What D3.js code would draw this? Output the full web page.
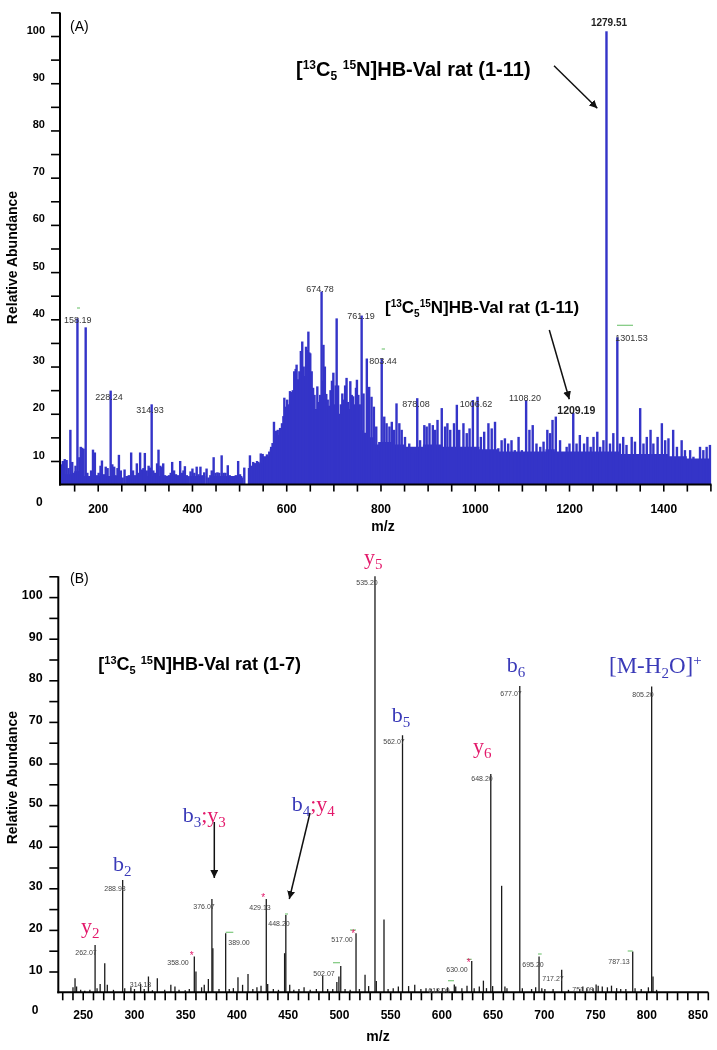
<!DOCTYPE html>
<html><head><meta charset="utf-8">
<script src="https://cdn.jsdelivr.net/npm/d3@7"></script>
<style>body{margin:0;background:#fff} svg{will-change:transform;display:block} text{white-space:pre}</style>
</head><body><svg id="c" width="717" height="1050"></svg>
<script>
// ---------- Panel A data (m/z, relative abundance) ----------
const mzA = [122,126,130,134,138,142,146,150,153,157,161,164,167,170,174.5,178,182,186,190,194,198,202,206,209,213,217,221,227.5,231,235,238,242,245,249,253,257,262,266,271,275,279,283,287,290,294,297,300,304,308,311,314.5,318,322,326,329,333,336,339,343,347,351,355,358,362,366,370,375,379,382,385,389,393,397,401,405,410,414,418,422,426,431,435,439,442,446,450,454,458,463,467,471,476,480,484,488,493,498,502,506,511,523,527,530,534,538,541,546,550,555,559,564,568,571,574,578,582,587,591,594,596,599,602,605,608,611,614,617,620,622,625,628,631,634,637,639,642,645,647,649,651,654,657,660,663,666,669,672,675,677,679,682,685,688,691,694,697,700,703,705,707,710,713,716,719,722,725,728,731,733,736,739,742,745,748,750,753,756,760,764,771,776,781,786,791,796,802.6,808,813,819,824,829,834,840,845,852,861,869,878,884,893,898,904,911,916,921,930,937,942,948,956,962,967,976,983,989,996,1006,1013,1020,1029,1036,1043,1050,1057,1064,1071,1078,1085,1093,1100,1109,1116,1123,1131,1139,1146,1154,1160,1165,1172,1181,1188,1195,1201,1209,1216,1223,1232,1239,1246,1252,1260,1266,1273,1279.5,1287,1294,1302.5,1308,1315,1322,1333,1340,1351,1358,1365,1373,1379,1388,1397,1404,1411,1421,1429,1439,1446,1457,1464,1478,1485,1492,1499];
const intA = [9.3,10.0,10.4,10.2,8.5,16.6,9.8,7.5,9.0,40.2,10.8,13.0,12.8,12.6,38.3,7.5,6.5,8.0,12.4,11.8,7.0,7.5,9.0,10.1,7.2,8.8,8.5,24.9,9.3,8.8,7.0,8.5,11.3,8.0,6.5,8.2,6.0,7.0,11.8,8.0,7.0,9.5,7.5,11.8,8.2,8.5,11.7,8.0,9.0,8.6,22.0,8.0,7.5,9.5,12.4,9.0,8.7,9.5,7.0,6.5,7.0,7.5,9.8,8.0,7.2,7.0,10.0,7.5,8.0,8.9,7.0,6.8,7.8,8.4,7.5,8.8,7.2,8.8,7.0,7.6,8.4,6.5,7.0,8.0,10.8,7.5,7.6,7.5,11.2,7.5,7.5,9.1,7.0,6.5,6.2,7.0,10.0,7.2,6.5,8.6,11.2,9.0,9.8,9.5,10.0,9.8,11.6,11.5,10.8,11.4,12.0,13.0,13.8,18.3,16.4,16.6,17.0,18.0,19.5,23.4,21.5,23.0,22.0,24.8,24.6,25.0,29.0,29.5,30.4,27.3,29.0,33.3,35.3,30.0,28.0,34.2,33.5,37.4,33.0,32.8,29.0,25.5,24.0,20.9,25.8,22.5,24.0,45.9,27.0,34.6,30.0,24.2,23.0,21.7,25.0,27.0,28.7,22.0,26.0,40.2,26.0,20.0,22.0,24.3,23.0,26.0,27.6,22.5,21.0,26.9,24.0,23.7,22.0,25.5,27.2,24.0,22.0,40.8,24.3,31.7,25.7,23.6,21.5,17.3,12.0,31.7,19.4,18.0,17.3,18.3,16.6,22.2,18.0,16.6,15.1,13.7,11.6,23.3,14.4,17.6,17.3,18.0,17.6,16.6,18.7,21.2,17.3,18.0,16.6,18.0,21.9,16.6,18.0,15.9,16.9,22.9,23.6,15.1,16.2,18.0,16.9,18.3,12.7,14.4,14.8,13.7,14.4,12.3,15.1,12.3,22.9,16.6,17.6,13.7,13.0,14.1,16.6,15.9,18.7,19.4,14.4,11.6,13.0,13.7,20.2,13.7,15.5,13.7,15.1,13.0,15.1,16.2,13.0,14.4,101,13.7,15.9,36.2,13.7,15.1,13.4,15.1,14.1,21.2,13.7,15.1,16.6,13.7,15.1,18.0,14.4,14.8,16.6,13.0,14.4,12.3,12.3,10.9,13.0,12.3,13.0,13.4];
// solid background level of the dense spectrum
const floorMzA = [120,140,160,180,200,220,240,255,262,280,300,320,340,360,380,395,400,420,437,440,460,480,500,514,523,540,560,570,580,590,600,610,620,630,640,650,660,670,680,690,700,710,720,730,740,750,760,770,780,790,800,820,840,860,880,900,920,940,960,980,1000,1020,1040,1060,1080,1100,1120,1140,1160,1180,1200,1220,1240,1260,1280,1300,1320,1340,1360,1380,1400,1420,1440,1460,1480,1500];
const floorA   = [6.8,7.2,7.8,6.8,6.8,6.8,6.8,5,6.8,6.8,6.8,6.8,6.8,6.8,6.8,5,6.8,6.8,5,6.8,6.8,6.8,6.8,5,8.5,9.5,11,12.5,15.5,17,19,21,23,24,25,25,21,21,22,20,20,19,20,20,19,18,16.5,16,15,13.5,14,14,13.5,13,13,13.5,13.5,13,13,13,13,12.5,12.5,12,12,12,12,12,12.5,12,12,12,12,12,12,12,11.5,11.5,11.5,11.5,11.5,11,11,10.5,10.5,10.5];

// ---------- Panel B data (m/z, relative abundance) ----------
const mzB = [240.5,242.5,244,248,252,257,262.07,264,267,271.5,274,280,288.98,291,297,300.5,306.5,310,314.13,318,322.8,330,336,340,344,350,354,358.9,360.5,366,368.6,372.6,376.07,377,383,389.5,393,397,401.5,406,411.3,416,420,424,429.13,430.5,436,441,447,448.2,452,456,461,466,472,478,484.2,489,494,498,500,501.8,506,511,516.7,520,525.5,529,535.2,536.5,544,548,553,558,562.07,568,574,580,585,590,596,601,606,612.6,614,620,625,629.6,632,637,641,644,648.2,650,658.8,662,664,676.5,679,688,692,695.3,698,701,709,717.4,724,735,738,742,748,751,753,757,762,766,771,775,780,786.7,789,795,802,805.2,806.5,810];
const intB = [6.2,8.4,6.4,5.6,5.4,5.6,16.4,6.0,7.0,12.0,6.8,5.6,32.0,6.0,6.2,5.8,7.0,5.8,8.8,5.5,8.4,5.6,6.8,6.4,5.6,5.5,5.8,13.6,10.0,6.2,6.8,8.2,27.4,15.6,5.8,19.2,5.8,6.0,8.6,6.8,9.4,5.8,6.2,6.6,27.4,7.0,5.8,5.6,14.4,23.6,6.8,5.6,5.8,6.2,5.6,5.8,9.0,5.8,5.8,7.5,8.8,11.3,5.8,5.6,19.2,5.8,9.2,6.5,105,7.7,22.5,5.8,6.0,6.4,66.8,6.5,6.8,5.8,6.0,5.8,5.8,6.0,6.2,6.9,6.4,6.0,6.6,12.5,6.0,6.4,7.8,6.0,57.5,6.5,30.6,6.4,6.0,78.6,6.0,5.8,6.2,13.6,6.0,5.8,5.8,10.4,5.6,5.8,6.4,6.0,6.0,6.9,6.6,6.4,6.2,6.6,6.0,5.8,5.8,14.8,6.0,5.8,6.2,78.5,8.8,5.6];

const yTickValues = [10,15,20,25,30,35,40,45,50,55,60,65,70,75,80,85,90,95,100,105];
const xTicksA = [150,200,250,300,350,400,450,500,550,600,650,700,750,800,850,900,950,1000,1050,1100,1150,1200,1250,1300,1350,1400,1450,1500];
const xLabelsA = [200,400,600,800,1000,1200,1400];
const xTicksB = d3.range(230, 861, 10);
const xLabelsB = [250,300,350,400,450,500,550,600,650,700,750,800,850];

const FONT = "'Liberation Sans', Arial, sans-serif";
const SERIF = "'Liberation Serif', 'Times New Roman', serif";
const BLUE = "#3434c8", ION_BLUE = "#3a3ab8", PINK = "#e3186a", GREEN = "#7cc87c";

const svg = d3.select("#c");
const defs = svg.append("defs");
defs.append("marker").attr("id","arr").attr("viewBox","0 0 10 10").attr("refX",10).attr("refY",5)
  .attr("markerWidth",8).attr("markerHeight",8).attr("markerUnits","userSpaceOnUse").attr("orient","auto")
  .append("path").attr("d","M0,0 L10,5 L0,10 z").attr("fill","#111");

const xA = d3.scaleLinear().domain([120,1500]).range([60,710.4]);
const yA = d3.scaleLinear().domain([0,105]).range([508.2,12.4]);
const xB = d3.scaleLinear().domain([225,861]).range([57.1,708.85]);
const yB = d3.scaleLinear().domain([0,105]).range([1013.1,576.3]);

function rich(x, y, parts, o) {
  const t = svg.append("text").attr("x", x).attr("y", y)
    .style("font-family", o.family || FONT).style("font-weight", o.weight || "normal")
    .style("font-size", o.size + "px").attr("fill", o.fill || "#000");
  let cur = 0;
  parts.forEach(p => {
    const target = p.k === "sup" ? -o.sup : p.k === "sub" ? o.sub : 0;
    t.append("tspan").attr("dy", target - cur).style("font-size", (p.k ? o.small : o.size) + "px")
      .attr("fill", p.c || o.fill || "#000").text(p.t);
    cur = target;
  });
  return t;
}
function dash(x1, x2, y) {
  svg.append("line").attr("x1",x1).attr("x2",x2).attr("y1",y).attr("y2",y).attr("stroke",GREEN).attr("stroke-width",1.2);
}

// ---------- Panel A ----------
const gA = svg.append("g");
gA.append("path").datum(floorMzA.map((m,i)=>[m, floorA[i]]))
  .attr("fill", BLUE)
  .attr("d", d3.area().x(d=>xA(d[0])).y0(yA(5)).y1(d=>yA(d[1])).curve(d3.curveStep));
gA.selectAll("rect.sp").data(mzA.map((m,i)=>[m,intA[i]])).join("rect")
  .attr("x", d=>xA(d[0])-1.2).attr("width", 2.4)
  .attr("y", d=>yA(d[1])).attr("height", d=>yA(5)-yA(d[1])).attr("fill", BLUE);

function styleAxis(g, size) {
  g.attr("font-size", null).attr("font-family", null);
  g.select(".domain").remove();
  g.selectAll(".tick line").attr("stroke","#000").attr("stroke-width",1.6);
  g.selectAll("text").style("font-family", FONT).style("font-weight","bold").style("font-size", size+"px").attr("fill","#000");
}
const ayA = svg.append("g").attr("transform","translate(60,0)")
  .call(d3.axisLeft(yA).tickValues(yTickValues).tickSize(9).tickPadding(6)
    .tickFormat(d => (d % 10 === 0 && d <= 100) ? d : ""));
styleAxis(ayA, 11);
ayA.selectAll("text").attr("y", -6.5);
const axA = svg.append("g").attr("transform",`translate(0,${yA(5)})`)
  .call(d3.axisBottom(xA).tickValues(xTicksA).tickSize(7).tickPadding(12.8)
    .tickFormat(d => xLabelsA.includes(d) ? d : ""));
styleAxis(axA, 12);
svg.append("line").attr("x1",60).attr("x2",60).attr("y1",yA(105)).attr("y2",yA(5)+1).attr("stroke","#000").attr("stroke-width",2);
svg.append("line").attr("x1",59).attr("x2",711.5).attr("y1",yA(5)).attr("y2",yA(5)).attr("stroke","#000").attr("stroke-width",2);
svg.append("text").attr("x",39.3).attr("y",506).attr("text-anchor","middle").style("font",`bold 12px ${FONT}`).text("0");
svg.append("text").attr("transform","translate(17.3,257.5) rotate(-90)").attr("text-anchor","middle").style("font",`bold 14px ${FONT}`).text("Relative Abundance");
svg.append("text").attr("x",383).attr("y",531).attr("text-anchor","middle").style("font",`bold 14px ${FONT}`).text("m/z");
svg.append("text").attr("x",70).attr("y",30.5).style("font",`14px ${FONT}`).text("(A)");

// peak labels A
const peakLabelsA = [
  {t:"158.19", x:77.7, y:323.2}, {t:"228.24", x:109, y:400}, {t:"314.93", x:150, y:413.2},
  {t:"674.78", x:320, y:291.5}, {t:"761.19", x:361, y:319.2}, {t:"803.44", x:383, y:363.5},
  {t:"878.08", x:416, y:407.2}, {t:"1006.62", x:476, y:406.5}, {t:"1108.20", x:525, y:401},
  {t:"1301.53", x:631.5, y:340.5}
];
svg.selectAll("text.plA").data(peakLabelsA).join("text").attr("class","plA")
  .attr("x",d=>d.x).attr("y",d=>d.y).attr("text-anchor","middle")
  .style("font",`9px ${FONT}`).attr("fill","#333").text(d=>d.t);
svg.append("text").attr("x",609).attr("y",26.3).attr("text-anchor","middle").style("font",`bold 10px ${FONT}`).attr("fill","#222").text("1279.51");
svg.append("text").attr("x",576.3).attr("y",413.8).attr("text-anchor","middle").style("font",`bold 10.5px ${FONT}`).attr("fill","#222").text("1209.19");
[[77,80,308],[617,633,325.3],[381.7,385,349]].forEach(d => dash(d[0], d[1], d[2]));

rich(296, 76, [{t:"["},{t:"13",k:"sup"},{t:"C"},{t:"5",k:"sub"},{t:" "},{t:"15",k:"sup"},{t:"N]HB-Val rat (1-11)"}],
  {size:20, small:12, sup:7, sub:4, weight:"bold"});
rich(385, 313, [{t:"["},{t:"13",k:"sup"},{t:"C"},{t:"5",k:"sub"},{t:"15",k:"sup"},{t:"N]HB-Val rat (1-11)"}],
  {size:17, small:10, sup:6, sub:3.5, weight:"bold"});
function arrow(x1,y1,x2,y2){ svg.append("line").attr("x1",x1).attr("y1",y1).attr("x2",x2).attr("y2",y2)
  .attr("stroke","#111").attr("stroke-width",1.5).attr("marker-end","url(#arr)"); }
arrow(554,65.7,597.3,108.3);
arrow(549.3,330,569.3,399.3);

// ---------- Panel B ----------
svg.selectAll("line.pk").data(mzB.map((m,i)=>[m,intB[i]])).join("line").attr("class","pk")
  .attr("x1",d=>xB(d[0])).attr("x2",d=>xB(d[0])).attr("y1",yB(5)).attr("y2",d=>yB(d[1]))
  .attr("stroke","#1a1a1a").attr("stroke-width",1.3);
const ayB = svg.append("g").attr("transform","translate(58.3,0)")
  .call(d3.axisLeft(yB).tickValues(yTickValues).tickSize(9).tickPadding(6.6)
    .tickFormat(d => (d % 10 === 0 && d <= 100) ? d : ""));
styleAxis(ayB, 12.5);
ayB.selectAll("text").attr("y", -2.5);
const axB = svg.append("g").attr("transform",`translate(0,${yB(5)})`)
  .call(d3.axisBottom(xB).tickValues(xTicksB).tickSize(8).tickPadding(9.8)
    .tickFormat(d => xLabelsB.includes(d) ? d : ""));
styleAxis(axB, 12);
svg.append("line").attr("x1",58.3).attr("x2",58.3).attr("y1",yB(105)).attr("y2",yB(5)+1).attr("stroke","#000").attr("stroke-width",2);
svg.append("line").attr("x1",57.3).attr("x2",708.3).attr("y1",yB(5)).attr("y2",yB(5)).attr("stroke","#000").attr("stroke-width",2);
svg.append("text").attr("x",35).attr("y",1014.3).attr("text-anchor","middle").style("font",`bold 12px ${FONT}`).text("0");
svg.append("text").attr("transform","translate(17.3,777.7) rotate(-90)").attr("text-anchor","middle").style("font",`bold 14px ${FONT}`).text("Relative Abundance");
svg.append("text").attr("x",378).attr("y",1041).attr("text-anchor","middle").style("font",`bold 14px ${FONT}`).text("m/z");
svg.append("text").attr("x",70).attr("y",583).style("font",`14px ${FONT}`).text("(B)");

const peakLabelsB = [
  {t:"262.07",x:86,y:955.2},{t:"288.98",x:115,y:890.8},{t:"314.13",x:140.5,y:986.8},{t:"358.00",x:178,y:965.2},
  {t:"376.07",x:204,y:909.2},{t:"389.00",x:239,y:944.8},{t:"429.13",x:260,y:909.5},{t:"448.20",x:279,y:925.8},
  {t:"502.07",x:324,y:975.8},{t:"517.00",x:342,y:941.8},{t:"535.20",x:367,y:585.2},{t:"562.07",x:394,y:744.2},
  {t:"612.09",x:439,y:992.5},{t:"630.00",x:457,y:971.8},{t:"648.20",x:482,y:781},{t:"677.07",x:511,y:695.8},
  {t:"695.20",x:533,y:966.8},{t:"717.27",x:553,y:980.8},{t:"751.09",x:583,y:992},{t:"787.13",x:619,y:964.2},
  {t:"805.20",x:643,y:696.8}
];
svg.selectAll("text.plB").data(peakLabelsB).join("text").attr("class","plB")
  .attr("x",d=>d.x).attr("y",d=>d.y).attr("text-anchor","middle")
  .style("font",`7px ${FONT}`).attr("fill","#444").text(d=>d.t);
[[225.7,233.3,932.3],[285,288,914],[333,340,962.7],[350,356,930],[448,454,980.7],[466.7,471.7,959.3],[538,541.7,954],[627.7,632.7,951]]
  .forEach(d => dash(d[0], d[1], d[2]));
[[191.7,958.5],[263.3,901],[353.3,936.7],[468.7,965.5]].forEach(d=>
  svg.append("text").attr("x",d[0]).attr("y",d[1]).attr("text-anchor","middle").style("font",`10px ${FONT}`).attr("fill",PINK).text("*"));

rich(98.3, 670, [{t:"["},{t:"13",k:"sup"},{t:"C"},{t:"5",k:"sub"},{t:" "},{t:"15",k:"sup"},{t:"N]HB-Val rat (1-7)"}],
  {size:18, small:11, sup:6.5, sub:4, weight:"bold"});

const ionOpts = {family:SERIF, size:22, small:15, sup:8, sub:5};
rich(364, 563.5, [{t:"y",c:PINK},{t:"5",k:"sub",c:PINK}], ionOpts);
rich(506.7, 671.7, [{t:"b",c:ION_BLUE},{t:"6",k:"sub",c:ION_BLUE}], ionOpts);
rich(609, 672.5, [{t:"[M-H",c:ION_BLUE},{t:"2",k:"sub",c:ION_BLUE},{t:"O]",c:ION_BLUE},{t:"+",k:"sup",c:ION_BLUE}], {family:SERIF,size:23,small:15,sup:8,sub:5});
rich(391.7, 721.7, [{t:"b",c:ION_BLUE},{t:"5",k:"sub",c:ION_BLUE}], ionOpts);
rich(473, 753.3, [{t:"y",c:PINK},{t:"6",k:"sub",c:PINK}], ionOpts);
rich(81, 933.3, [{t:"y",c:PINK},{t:"2",k:"sub",c:PINK}], ionOpts);
rich(113, 871, [{t:"b",c:ION_BLUE},{t:"2",k:"sub",c:ION_BLUE}], ionOpts);
rich(182.7, 821.7, [{t:"b",c:ION_BLUE},{t:"3",k:"sub",c:ION_BLUE},{t:";",c:PINK},{t:"y",c:PINK},{t:"3",k:"sub",c:PINK}], ionOpts);
rich(291.7, 811, [{t:"b",c:ION_BLUE},{t:"4",k:"sub",c:ION_BLUE},{t:";",c:PINK},{t:"y",c:PINK},{t:"4",k:"sub",c:PINK}], ionOpts);
arrow(214.3,822,214.3,878);
arrow(310,813,289.3,899);
</script></body></html>
